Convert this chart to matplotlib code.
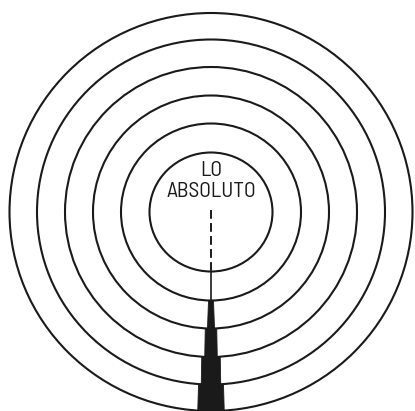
import matplotlib
matplotlib.use("Agg")
import matplotlib.pyplot as plt
from matplotlib.patches import Ellipse, Polygon
from matplotlib import font_manager

# Diagram data (pixel units of the 415x411 picture)
center = (211.0, 212.0)
ring_rx = [61.5, 90.0, 118.0, 146.0, 174.0, 201.5]
ring_ry = [59.5, 88.5, 116.5, 145.0, 172.5, 199.0]
# tower segment widths (top, bottom) between consecutive rings, starting below ring 2
tower_top_w = [5.0, 11.5, 18.5, 25.0]
tower_bot_w = [7.0, 12.5, 19.5, 26.5]
label_lines = ["LO", "ABSOLUTO"]
label_y = [170.0, 191.5]

names = {f.name for f in font_manager.fontManager.ttflist}
label_font, label_size = "DejaVu Sans", 12.5
for fam, size in [("Barlow Semi Condensed", 15.5), ("Roboto Condensed", 14.5)]:
    if fam in names:
        label_font, label_size = fam, size
        break

W, H = 415, 411
fig = plt.figure(figsize=(W / 100, H / 100), dpi=100)
ax = fig.add_axes([0, 0, 1, 1])
ax.set_xlim(0, W)
ax.set_ylim(H, 0)
ax.axis("off")

cx, cy = center
ink = "#1a1a1a"

for rx, ry in zip(ring_rx, ring_ry):
    ax.add_patch(Ellipse((cx, cy), 2 * rx, 2 * ry, fill=False,
                         edgecolor=ink, lw=1.5, zorder=2))

# dashed line from centre to inner ring
ax.plot([cx, cx], [cy - 2, cy + ring_ry[0] - 1], color=ink, lw=1.4,
        dashes=(4.5, 2.2), zorder=3)
# thin solid line from ring 1 to ring 2
ax.plot([cx, cx], [cy + ring_ry[0], cy + ring_ry[1]], color=ink, lw=1.2, zorder=3)

# stepped tower
for i, (wt, wb) in enumerate(zip(tower_top_w, tower_bot_w)):
    y0 = cy + ring_ry[i + 1]
    y1 = cy + ring_ry[i + 2] if i + 2 < len(ring_ry) else H + 2
    poly = Polygon([(cx - wt / 2, y0), (cx + wt / 2, y0),
                    (cx + wb / 2, y1), (cx - wb / 2, y1)],
                   closed=True, facecolor="#1a1a1a", edgecolor="#1a1a1a",
                   lw=0.6, zorder=4)
    ax.add_patch(poly)

for txt, ty in zip(label_lines, label_y):
    ax.text(cx, ty, txt, ha="center", va="center", fontsize=label_size,
            color=ink, family=label_font, zorder=5)

fig.savefig("out.png", dpi=100)
